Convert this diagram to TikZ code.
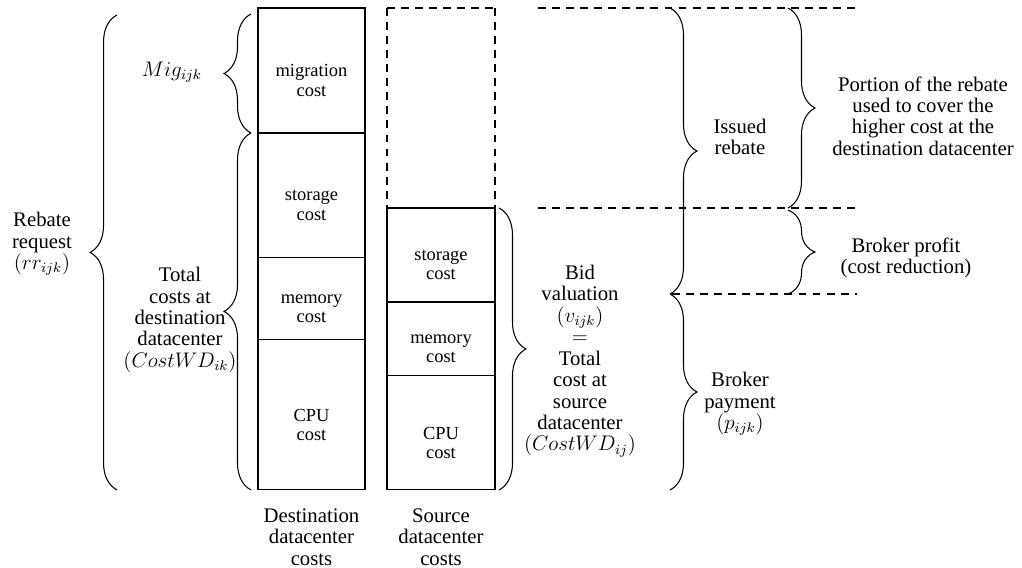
\documentclass[tikz,border=0pt]{standalone}
\usepackage[no-math]{fontspec}
\setmainfont{Liberation Serif}
\newfontfamily\figfont{Liberation Serif}
\usepackage{tikz}
\usetikzlibrary{positioning,decorations.pathreplacing,calc}
\tikzset{
    cell/.style={
        draw=black, line width=0.6pt, outer sep=0pt, inner sep=0pt,
        minimum width=2.14cm
    },
    celltext/.style={
        font=\figfont\fontsize{10.5}{11}\selectfont, align=center, inner sep=0pt
    },
    note/.style={
        font=\figfont\fontsize{11.8}{12.2}\selectfont, align=center, inner sep=0pt
    },
    curly/.style={
        decorate, decoration={brace, amplitude=0.54cm}, line width=0.6pt
    },
    guide/.style={dash pattern=on 4.5pt off 3.5pt, line width=0.6pt},
}

\begin{document}
\begin{tikzpicture}[x=0.02cm, y=-0.02cm]
    \useasboundingbox (0,0) rectangle (1022,568);
    % destination datacenter stack
    \node[cell, minimum height=2.5cm, anchor=north] (dmig) at (311.5,8) {};
    \node[cell, minimum height=2.5cm, below=0pt of dmig] (dsto) {};
    \node[cell, minimum height=1.64cm, below=0pt of dsto] (dmem) {};
    \node[cell, minimum height=3cm, below=0pt of dmem] (dcpu) {};
    \node[celltext] (dmigt) at ([yshift=-0.2cm]dmig.center) {migration\\cost};
    \node[celltext] (dstot) at ([yshift=-0.2cm]dsto.center) {storage\\cost};
    \node[celltext] (dmemt) at ([yshift=-0.2cm]dmem.center) {memory\\cost};
    \node[celltext] (dcput) at ([yshift=-0.2cm]dcpu.center) {CPU\\cost};
    % source datacenter stack
    \node[cell, minimum width=2.16cm, minimum height=1.88cm, anchor=north] (ssto) at (441,208) {};
    \node[cell, minimum width=2.16cm, minimum height=1.48cm, below=0pt of ssto] (smem) {};
    \node[cell, minimum width=2.16cm, minimum height=2.28cm, below=0pt of smem] (scpu) {};
    \node[celltext] (sstot) at ([yshift=-0.2cm]ssto.center) {storage\\cost};
    \node[celltext] (smemt) at ([yshift=-0.2cm]smem.center) {memory\\cost};
    \node[celltext] (scput) at ([yshift=-0.2cm]scpu.center) {CPU\\cost};
    \draw[guide] (ssto.north west |- dmig.north) -- (ssto.north west);
    \draw[guide] (ssto.north east |- dmig.north) -- (ssto.north east);
    \draw[guide] (ssto.north west |- dmig.north) -- (ssto.north east |- dmig.north);
    % guide lines
    \coordinate (g1w) at (538,8);
    \coordinate (g1e) at (860,8);
    \coordinate (g2w) at (538,208);
    \coordinate (g2e) at (860,208);
    \coordinate (g3w) at (672,294);
    \coordinate (g3e) at (857,294);
    \draw[guide] (g1w) -- (g1e);
    \draw[guide] (g2w) -- (g2e);
    \draw[guide] (g3w) -- (g3e);
    % braces
    \draw[curly] ([xshift=-0.14cm]dmig.south west) -- ([xshift=-0.14cm, yshift=-0.12cm]dmig.north west);
    \draw[curly] ([xshift=-0.14cm]dcpu.south west) -- ([xshift=-0.14cm]dsto.north west);
    \draw[curly] ([xshift=-2.82cm]dcpu.south west) -- ([xshift=-2.82cm, yshift=-0.14cm]dmig.north west);
    \draw[curly] ([xshift=0.08cm]ssto.north east) -- ([xshift=0.08cm]scpu.south east);
    \draw[curly] (670,8) -- (670,294);
    \draw[curly] (670,294) -- (670,490);
    \draw[curly] (788,8) -- (788,208);
    \draw[curly] (788,210) -- (788,294);
    % labels
    \node[note] (mig) at (172,72) {$Mig_{ijk}$};
    \node[note] (rebreq) at (42,244) {Rebate\\request\\$(rr_{ijk})$};
    \node[note] (totdest) at (180,320) {Total\\costs at\\destination\\datacenter\\$(CostWD_{ik})$};
    \node[note] (bid) at (580,361) {Bid\\valuation\\$(v_{ijk})$\\$=$\\Total\\cost at\\source\\datacenter\\$(CostWD_{ij})$};
    \node[note] (issued) at (740,137) {Issued\\rebate};
    \node[note] (payment) at (740,404) {Broker\\payment\\$(p_{ijk})$};
    \node[note] (portion) at (923,116) {Portion of the rebate\\used to cover the\\higher cost at the\\destination datacenter};
    \node[note] (profit) at (906,258) {Broker profit\\(cost reduction)};
    \node[note] (destlbl) at (311.5,537) {Destination\\datacenter\\costs};
    \node[note] (srclbl) at (441,537) {Source\\datacenter\\costs};
\end{tikzpicture}
\end{document}
